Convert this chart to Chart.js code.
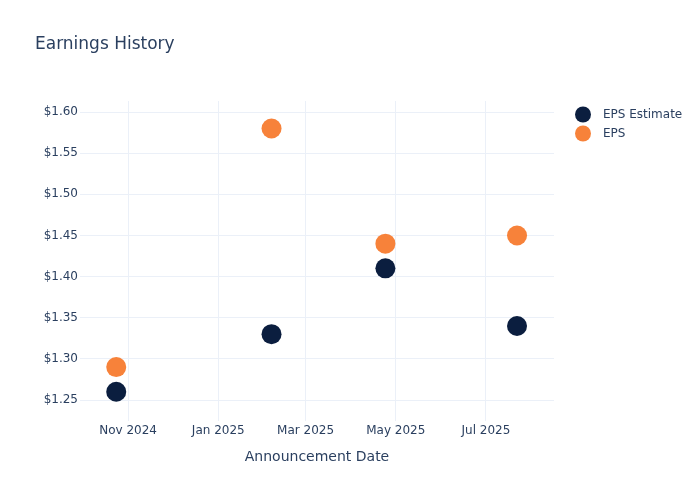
<!DOCTYPE html>
<html>
<head>
<meta charset="utf-8">
<script src="https://cdn.jsdelivr.net/npm/chart.js@4"></script>
<style>
  html, body { margin: 0; padding: 0; background: #fff; }
  #wrap { width: 700px; height: 500px; position: relative; }
</style>
</head>
<body>
<div id="wrap"><canvas id="c" width="700" height="500"></canvas></div>
<script>
const chartTitle = "Earnings History";
const xAxisTitle = "Announcement Date";
const seriesNames = ["EPS Estimate", "EPS"];
const seriesColors = ["#0b1e3f", "#f7823a"];
const announceDates = ["2024-10-24", "2025-02-06", "2025-04-24", "2025-07-22"];
const epsEstimate = [1.26, 1.33, 1.41, 1.34];
const epsActual = [1.29, 1.58, 1.44, 1.45];
const yTicks = [1.25, 1.30, 1.35, 1.40, 1.45, 1.50, 1.55, 1.60];
const xTickDates = ["2024-11-01", "2025-01-01", "2025-03-01", "2025-05-01", "2025-07-01"];
const xTickLabels = ["Nov 2024", "Jan 2025", "Mar 2025", "May 2025", "Jul 2025"];
const xRange = ["2024-09-29T12:00:00Z", "2025-08-16T00:00:00Z"];
const yRange = [1.2245, 1.6134];

const t = s => Date.parse(s.length === 10 ? s + "T00:00:00Z" : s);
const textColor = "#2a3f5f";
const gridColor = "#ebf0f8";
const fontFamily = "'DejaVu Sans', sans-serif";

const mk = (vals) => announceDates.map((d, i) => ({ x: t(d), y: vals[i] }));

const overlay = {
  id: "overlay",
  afterDraw(chart) {
    const ctx = chart.ctx;
    ctx.save();
    ctx.fillStyle = textColor;
    ctx.textBaseline = "middle";
    ctx.textAlign = "left";
    ctx.font = "17px " + fontFamily;
    ctx.fillText(chartTitle, 35, 45);
    ctx.font = "12px " + fontFamily;
    const ly = [115, 134];
    seriesNames.forEach((n, i) => {
      ctx.beginPath();
      ctx.fillStyle = seriesColors[i];
      ctx.arc(583, ly[i] - 0.5, 8, 0, Math.PI * 2);
      ctx.fill();
      ctx.fillStyle = textColor;
      ctx.fillText(n, 603, ly[i]);
    });
    ctx.restore();
  }
};

new Chart(document.getElementById("c"), {
  type: "scatter",
  data: {
    datasets: [
      { label: seriesNames[0], data: mk(epsEstimate), backgroundColor: seriesColors[0], borderWidth: 0, pointRadius: 10, pointHoverRadius: 10 },
      { label: seriesNames[1], data: mk(epsActual), backgroundColor: seriesColors[1], borderWidth: 0, pointRadius: 10, pointHoverRadius: 10 }
    ]
  },
  options: {
    responsive: false,
    animation: false,
    layout: { padding: { left: 0, right: 146, top: 101, bottom: 0 } },
    plugins: { legend: { display: false }, title: { display: false }, tooltip: { enabled: false } },
    scales: {
      x: {
        type: "linear",
        min: t(xRange[0]),
        max: t(xRange[1]),
        afterBuildTicks(scale) { scale.ticks = xTickDates.map(d => ({ value: t(d) })); },
        afterFit(scale) { scale.height = 79; },
        grid: { color: gridColor, drawTicks: false },
        border: { display: false },
        ticks: {
          padding: 3,
          color: textColor,
          font: { family: fontFamily, size: 12 },
          maxRotation: 0,
          autoSkip: false,
          callback: (v) => { const i = xTickDates.findIndex(d => t(d) === v); return i >= 0 ? xTickLabels[i] : ""; }
        },
        title: { display: true, text: xAxisTitle, color: textColor, font: { family: fontFamily, size: 14 }, padding: { top: 12, bottom: 34 } }
      },
      y: {
        min: yRange[0],
        max: yRange[1],
        afterBuildTicks(scale) { scale.ticks = yTicks.map(v => ({ value: v })); },
        afterFit(scale) { scale.width = 80; },
        grid: { color: gridColor, drawTicks: false },
        border: { display: false },
        ticks: {
          padding: 2,
          color: textColor,
          font: { family: fontFamily, size: 12 },
          autoSkip: false,
          callback: (v) => "$" + Number(v).toFixed(2)
        }
      }
    }
  },
  plugins: [overlay]
});
</script>
</body>
</html>
